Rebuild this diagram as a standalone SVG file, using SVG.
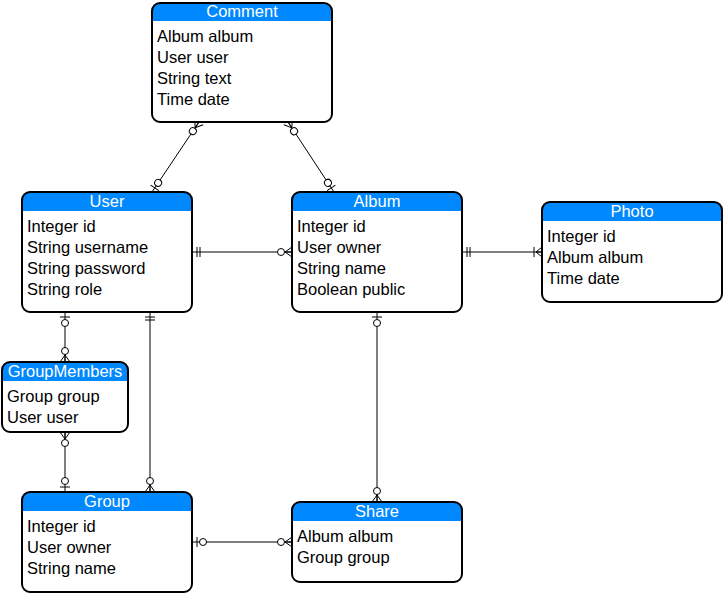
<svg xmlns="http://www.w3.org/2000/svg" width="724" height="597" viewBox="0 0 724 597">
<style>
.box{fill:#fff;stroke:none}
.hd{fill:#0088ff}
.ol{fill:none;stroke:#000;stroke-width:2}
.ht{font-family:"Liberation Sans",Arial,sans-serif;font-size:16.5px;fill:#fff;text-anchor:middle}
.bt{font-family:"Liberation Sans",Arial,sans-serif;font-size:16.5px;fill:#000}
.cn{fill:none;stroke:#000;stroke-width:1}
.mk{fill:none;stroke:#000;stroke-width:1}
.mc{fill:#fff;stroke:#000;stroke-width:1}
</style>
<defs>
<marker id="zeroMany" markerUnits="userSpaceOnUse" markerWidth="30" markerHeight="30" refX="0" refY="0" orient="auto-start-reverse" overflow="visible">
<circle class="mc" cx="-11" cy="0" r="3.5"/>
<path class="mk" d="M-7,0 L0,-5 M-7,0 L0,0 M-7,0 L0,5"/>
</marker>
<marker id="oneMany" markerUnits="userSpaceOnUse" markerWidth="30" markerHeight="30" refX="0" refY="0" orient="auto-start-reverse" overflow="visible">
<path class="mk" d="M-8,-5 L-8,5 M-6,0 L0,-5 M-6,0 L0,0 M-6,0 L0,5"/>
</marker>
<marker id="zeroOne" markerUnits="userSpaceOnUse" markerWidth="30" markerHeight="30" refX="0" refY="0" orient="auto-start-reverse" overflow="visible">
<circle class="mc" cx="-11" cy="0" r="3.5"/>
<path class="mk" d="M-5,-5 L-5,5"/>
</marker>
<marker id="oneOnly" markerUnits="userSpaceOnUse" markerWidth="30" markerHeight="30" refX="0" refY="0" orient="auto-start-reverse" overflow="visible">
<path class="mk" d="M-5,-5 L-5,5 M-8,-5 L-8,5"/>
</marker>
</defs>

<g id="connectors">
<path class="cn" d="M199,122 L152,192" marker-start="url(#zeroMany)" marker-end="url(#zeroOne)"/>
<path class="cn" d="M288,122 L334,192" marker-start="url(#zeroMany)" marker-end="url(#zeroOne)"/>
<path class="cn" d="M192,252 L292,252" marker-start="url(#oneOnly)" marker-end="url(#zeroMany)"/>
<path class="cn" d="M462,252 L542,252" marker-start="url(#oneOnly)" marker-end="url(#oneMany)"/>
<path class="cn" d="M65,312 L65,362" marker-start="url(#zeroOne)" marker-end="url(#zeroMany)"/>
<path class="cn" d="M150,312 L150,492" marker-start="url(#oneOnly)" marker-end="url(#zeroMany)"/>
<path class="cn" d="M65,432 L65,492" marker-start="url(#zeroMany)" marker-end="url(#zeroOne)"/>
<path class="cn" d="M192,542 L292,542" marker-start="url(#zeroOne)" marker-end="url(#zeroMany)"/>
<path class="cn" d="M377,312 L377,502" marker-start="url(#zeroOne)" marker-end="url(#zeroMany)"/>
</g>

<g id="Comment">
<rect class="box" x="152" y="3" width="180" height="119" rx="8"/>
<path class="hd" d="M152,21 L152,11 Q152,3 160,3 L324,3 Q332,3 332,11 L332,21 Z"/>
<rect class="ol" x="152" y="3" width="180" height="119" rx="8"/>
<text class="ht" x="242" y="17">Comment</text>
<text class="bt" x="157" y="42">Album album</text>
<text class="bt" x="157" y="63">User user</text>
<text class="bt" x="157" y="84">String text</text>
<text class="bt" x="157" y="105">Time date</text>
</g>

<g id="User">
<rect class="box" x="22" y="192" width="170" height="120" rx="8"/>
<path class="hd" d="M22,211 L22,200 Q22,192 30,192 L184,192 Q192,192 192,200 L192,211 Z"/>
<rect class="ol" x="22" y="192" width="170" height="120" rx="8"/>
<text class="ht" x="107" y="207">User</text>
<text class="bt" x="27" y="232">Integer id</text>
<text class="bt" x="27" y="253">String username</text>
<text class="bt" x="27" y="274">String password</text>
<text class="bt" x="27" y="295">String role</text>
</g>

<g id="Album">
<rect class="box" x="292" y="192" width="170" height="120" rx="8"/>
<path class="hd" d="M292,211 L292,200 Q292,192 300,192 L454,192 Q462,192 462,200 L462,211 Z"/>
<rect class="ol" x="292" y="192" width="170" height="120" rx="8"/>
<text class="ht" x="377" y="207">Album</text>
<text class="bt" x="297" y="232">Integer id</text>
<text class="bt" x="297" y="253">User owner</text>
<text class="bt" x="297" y="274">String name</text>
<text class="bt" x="297" y="295">Boolean public</text>
</g>

<g id="Photo">
<rect class="box" x="542" y="202" width="180" height="100" rx="8"/>
<path class="hd" d="M542,221 L542,210 Q542,202 550,202 L714,202 Q722,202 722,210 L722,221 Z"/>
<rect class="ol" x="542" y="202" width="180" height="100" rx="8"/>
<text class="ht" x="632" y="217">Photo</text>
<text class="bt" x="547" y="242">Integer id</text>
<text class="bt" x="547" y="263">Album album</text>
<text class="bt" x="547" y="284">Time date</text>
</g>

<g id="GroupMembers">
<rect class="box" x="2" y="362" width="126" height="70" rx="8"/>
<path class="hd" d="M2,381 L2,370 Q2,362 10,362 L120,362 Q128,362 128,370 L128,381 Z"/>
<rect class="ol" x="2" y="362" width="126" height="70" rx="8"/>
<text class="ht" x="65" y="377">GroupMembers</text>
<text class="bt" x="7" y="402">Group group</text>
<text class="bt" x="7" y="423">User user</text>
</g>

<g id="Group">
<rect class="box" x="22" y="492" width="170" height="100" rx="8"/>
<path class="hd" d="M22,511 L22,500 Q22,492 30,492 L184,492 Q192,492 192,500 L192,511 Z"/>
<rect class="ol" x="22" y="492" width="170" height="100" rx="8"/>
<text class="ht" x="107" y="507">Group</text>
<text class="bt" x="27" y="532">Integer id</text>
<text class="bt" x="27" y="553">User owner</text>
<text class="bt" x="27" y="574">String name</text>
</g>

<g id="Share">
<rect class="box" x="292" y="502" width="170" height="80" rx="8"/>
<path class="hd" d="M292,521 L292,510 Q292,502 300,502 L454,502 Q462,502 462,510 L462,521 Z"/>
<rect class="ol" x="292" y="502" width="170" height="80" rx="8"/>
<text class="ht" x="377" y="517">Share</text>
<text class="bt" x="297" y="542">Album album</text>
<text class="bt" x="297" y="563">Group group</text>
</g>
</svg>
